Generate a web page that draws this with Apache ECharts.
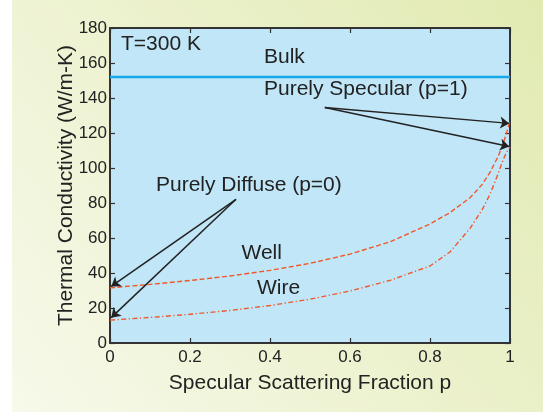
<!DOCTYPE html>
<html>
<head>
<meta charset="utf-8">
<script src="https://cdn.jsdelivr.net/npm/echarts@6/dist/echarts.min.js"></script>
<style>
html,body{margin:0;padding:0;background:#fff;}
#c{width:543px;height:413px;}
</style>
</head>
<body>
<div id="c"></div>
<script>
// ---- data ----
var pValues = [0, 0.1, 0.2, 0.3, 0.4, 0.5, 0.6, 0.7, 0.8, 0.85, 0.9, 0.93, 0.95, 0.97, 0.98, 0.99, 1.0];
var wellValues = [31.5, 33.5, 35.7, 38.3, 41.5, 45.5, 50.8, 57.8, 68, 74.5, 83, 90.5, 97.5, 106.5, 112, 119, 127];
var wireValues = [13.1, 14.6, 16.4, 18.6, 21.4, 25, 29.7, 35.8, 44, 52, 65.5, 76, 85, 96.5, 103, 108.5, 112];
var bulkValue = 152;
var xTickLabels = ['0', '0.2', '0.4', '0.6', '0.8', '1'];
var yTickLabels = ['0', '20', '40', '60', '80', '100', '120', '140', '160', '180'];
// annotation arrows: [start, end] in data coords
var specularArrows = [[[0.537, 134.6], [0.998, 125.5]], [[0.537, 134.6], [0.998, 112.3]]];
var diffuseArrows = [[[0.315, 82.1], [0.003, 32.3]], [[0.315, 82.1], [0.003, 14.5]]];

function pairs(xs, ys) { return xs.map(function (x, i) { return [x, ys[i]]; }); }

var FONT = 'Liberation Sans, Arial, Helvetica, sans-serif';
var AX = '#333';
var chart = echarts.init(document.getElementById('c'), null, {renderer: 'canvas'});

function xAx(pos, main) {
  return {
    type: 'value', position: pos, min: 0, max: 1, interval: 0.2,
    axisLine: {show: true, onZero: false, lineStyle: {color: AX, width: 2}},
    axisTick: {show: true, inside: true, length: 5, lineStyle: {color: AX, width: 1.2}},
    splitLine: {show: false},
    axisLabel: {show: main, fontSize: 17, color: '#222', fontFamily: FONT, margin: 6,
      formatter: function (v) { return xTickLabels[Math.round(v / 0.2)]; }},
    name: main ? 'Specular Scattering Fraction p' : '',
    nameLocation: 'middle', nameGap: 30, nameMoveOverlap: false,
    nameTextStyle: {fontSize: 21, color: '#222', fontFamily: FONT}
  };
}
function yAx(pos, main) {
  return {
    type: 'value', position: pos, min: 0, max: 180, interval: 20,
    axisLine: {show: true, onZero: false, lineStyle: {color: AX, width: 2}},
    axisTick: {show: true, inside: true, length: 5, lineStyle: {color: AX, width: 1.2}},
    splitLine: {show: false},
    axisLabel: {show: main, fontSize: 17, color: '#222', fontFamily: FONT, margin: 3,
      formatter: function (v) { return yTickLabels[Math.round(v / 20)]; }},
    name: main ? 'Thermal Conductivity (W/m-K)' : '',
    nameLocation: 'middle', nameGap: 33, nameRotate: 90, nameMoveOverlap: false,
    nameTextStyle: {fontSize: 21, color: '#222', fontFamily: FONT}
  };
}

function arrowData(list) {
  return list.map(function (a) { return [{coord: a[0]}, {coord: a[1]}]; });
}

function txt(s, x, y) {
  return {type: 'text', x: x, y: y, z: 50,
    style: {text: s, fill: '#222', font: '21px ' + FONT, verticalAlign: 'middle', align: 'left'}};
}

chart.setOption({
  animation: false,
  backgroundColor: 'transparent',
  grid: {left: 110, right: 33, top: 28, bottom: 70, show: true, backgroundColor: '#c0e6f8', borderWidth: 0},
  xAxis: [xAx('bottom', true), xAx('top', false)],
  yAxis: [yAx('left', true), yAx('right', false)],
  graphic: [
    {type: 'rect', z: -10, silent: true, shape: {x: 12, y: 0, width: 531, height: 412},
      style: {fill: {type: 'linear', x: 0, y: 1, x2: 1, y2: 0,
        colorStops: [{offset: 0, color: '#f7f9ea'}, {offset: 1, color: '#e2eab2'}]}}},
    txt('T=300 K', 121, 44.5),
    txt('Bulk', 264, 57.3),
    txt('Purely Specular (p=1)', 264, 89),
    txt('Purely Diffuse (p=0)', 156, 184.8),
    txt('Well', 241.5, 253),
    txt('Wire', 257, 288.3)
  ],
  series: [
    {type: 'line', name: 'Bulk', data: [[0, bulkValue], [1, bulkValue]], symbol: 'none',
      lineStyle: {color: '#14a9e8', width: 2.5}, z: 3,
      markLine: {silent: true, symbol: ['none', 'arrow'], symbolSize: 9, label: {show: false},
        lineStyle: {color: '#222', width: 1.5, type: 'solid'},
        data: arrowData(specularArrows).concat(arrowData(diffuseArrows))}},
    {type: 'line', name: 'Well', data: pairs(pValues, wellValues), symbol: 'none', smooth: false,
      lineStyle: {color: '#f0582a', width: 1.4, type: [5, 2.5]}},
    {type: 'line', name: 'Wire', data: pairs(pValues, wireValues), symbol: 'none', smooth: false,
      lineStyle: {color: '#f0582a', width: 1.4, type: [5, 2.5, 1.2, 2.5]}}
  ]
});
</script>
</body>
</html>
